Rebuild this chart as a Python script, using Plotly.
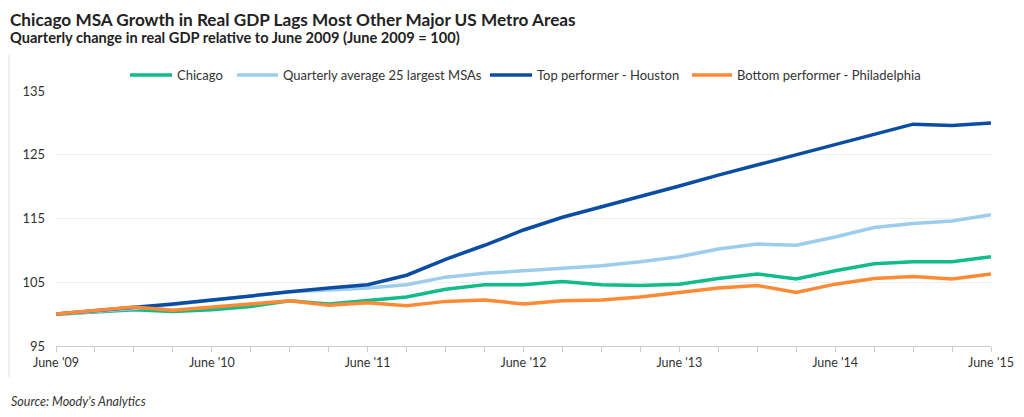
import plotly.graph_objects as go

quarters = ["2009Q2","2009Q3","2009Q4","2010Q1","2010Q2","2010Q3","2010Q4","2011Q1","2011Q2",
            "2011Q3","2011Q4","2012Q1","2012Q2","2012Q3","2012Q4","2013Q1","2013Q2","2013Q3",
            "2013Q4","2014Q1","2014Q2","2014Q3","2014Q4","2015Q1","2015Q2"]
tick_labels = ["June '09","June '10","June '11","June '12","June '13","June '14","June '15"]

chicago = [100.0,100.4,100.7,100.4,100.7,101.2,102.1,101.6,102.1,102.7,103.9,104.6,104.6,105.1,
           104.6,104.5,104.7,105.6,106.3,105.5,106.8,107.9,108.2,108.2,109.0]
avg25 = [100.0,100.4,100.9,101.5,102.2,102.9,103.5,103.8,104.1,104.6,105.8,106.4,106.8,107.3,
         107.6,108.2,109.0,110.2,111.0,110.8,112.1,113.6,114.2,114.6,115.6]
houston = [100.0,100.5,101.1,101.6,102.2,102.9,103.5,104.1,104.6,106.1,108.6,110.8,113.2,115.2,
           116.8,118.5,120.1,121.8,123.4,125.0,126.7,128.3,129.8,129.6,130.0]
philly = [100.0,100.5,101.1,100.6,101.1,101.6,102.1,101.4,101.8,101.3,102.0,102.2,101.6,102.1,
          102.2,102.7,103.4,104.1,104.5,103.4,104.7,105.6,105.9,105.5,106.3]

names = ["Chicago", "Quarterly average 25 largest MSAs", "Top performer - Houston",
         "Bottom performer - Philadelphia"]
colors = ["#12BC8A", "#9DCDED", "#0B4DA2", "#FF8A35"]
series = [chicago, avg25, houston, philly]

x = list(range(len(quarters)))
fig = go.Figure()
for name, col, vals in zip(names, colors, series):
    fig.add_trace(go.Scatter(x=x, y=vals, name=name, mode="lines",
                             line=dict(color=col, width=3.5)))

FONT = "Lato"
OFF = 8  # page body margin
W, H = 1008, 401
L, T = 56 - OFF, 91 - OFF
R = W - (991 - OFF)
B = H - (346 - OFF)
PW, PH = W - L - R, H - T - B

def px_x(p):  # reference page pixel -> paper x
    return (p - OFF - L) / PW

def px_y(p):
    return (H - B - (p - OFF)) / PH

fig.update_layout(
    width=W, height=H,
    margin=dict(l=L, r=R, t=T, b=B, autoexpand=False),
    plot_bgcolor="white", paper_bgcolor="white",
    font=dict(family=FONT, size=12, color="#333333"),
    showlegend=False,
)
fig.update_xaxes(range=[0, 24], tickvals=x[::4], ticktext=tick_labels, automargin=False,
                 showgrid=False, zeroline=False, showline=True, linecolor="#cccccc", linewidth=1,
                 ticks="outside", ticklen=5, tickcolor="#cccccc",
                 minor=dict(dtick=1, tick0=0, ticks="outside", ticklen=5, tickcolor="#cccccc"),
                 tickfont=dict(size=12.5, color="#333333"))
fig.update_yaxes(range=[95, 135], tickvals=[95, 105, 115, 125, 135], automargin=False,
                 showgrid=True, gridcolor="#eeeeee", gridwidth=1, zeroline=False,
                 showline=False, ticks="", ticklabelstandoff=10,
                 tickfont=dict(size=13, color="#333333"))

# legend drawn manually to match the reference spacing
leg_line = [(130, 172), (237, 278), (490, 532), (692, 732)]
leg_text = [175, 281, 535, 735]
for name, col, (a, b), t in zip(names, colors, leg_line, leg_text):
    fig.add_shape(type="line", xref="paper", yref="paper", x0=px_x(a), x1=px_x(b),
                  y0=px_y(75), y1=px_y(75), line=dict(color=col, width=3.5))
    fig.add_annotation(text=name, xref="paper", yref="paper", x=px_x(t), y=px_y(75),
                       xanchor="left", yanchor="middle", showarrow=False,
                       font=dict(size=13, color="#333333", family=FONT))

LEFT = 9
fig.add_annotation(text="<b>Chicago MSA Growth in Real GDP Lags Most Other Major US Metro Areas</b>",
                   xref="paper", yref="paper", x=px_x(LEFT), y=px_y(8), xanchor="left",
                   yanchor="top", showarrow=False, borderpad=0,
                   font=dict(size=17.2, color="#222222", family=FONT))
fig.add_annotation(text="<b>Quarterly change in real GDP relative to June 2009 (June 2009 = 100)</b>",
                   xref="paper", yref="paper", x=px_x(LEFT), y=px_y(37.5), xanchor="left",
                   yanchor="middle", showarrow=False, borderpad=0,
                   font=dict(size=14.6, color="#222222", family=FONT))
fig.add_annotation(text="<i>Source: Moody's Analytics</i>",
                   xref="paper", yref="paper", x=px_x(LEFT), y=px_y(401), xanchor="left",
                   yanchor="middle", showarrow=False, font=dict(size=12.5, color="#333333", family=FONT))
fig.add_shape(type="line", xref="paper", yref="paper", x0=px_x(9), x1=px_x(9),
              y0=px_y(377), y1=px_y(55), line=dict(color="#dddddd", width=1))

fig.write_html("out.html")
